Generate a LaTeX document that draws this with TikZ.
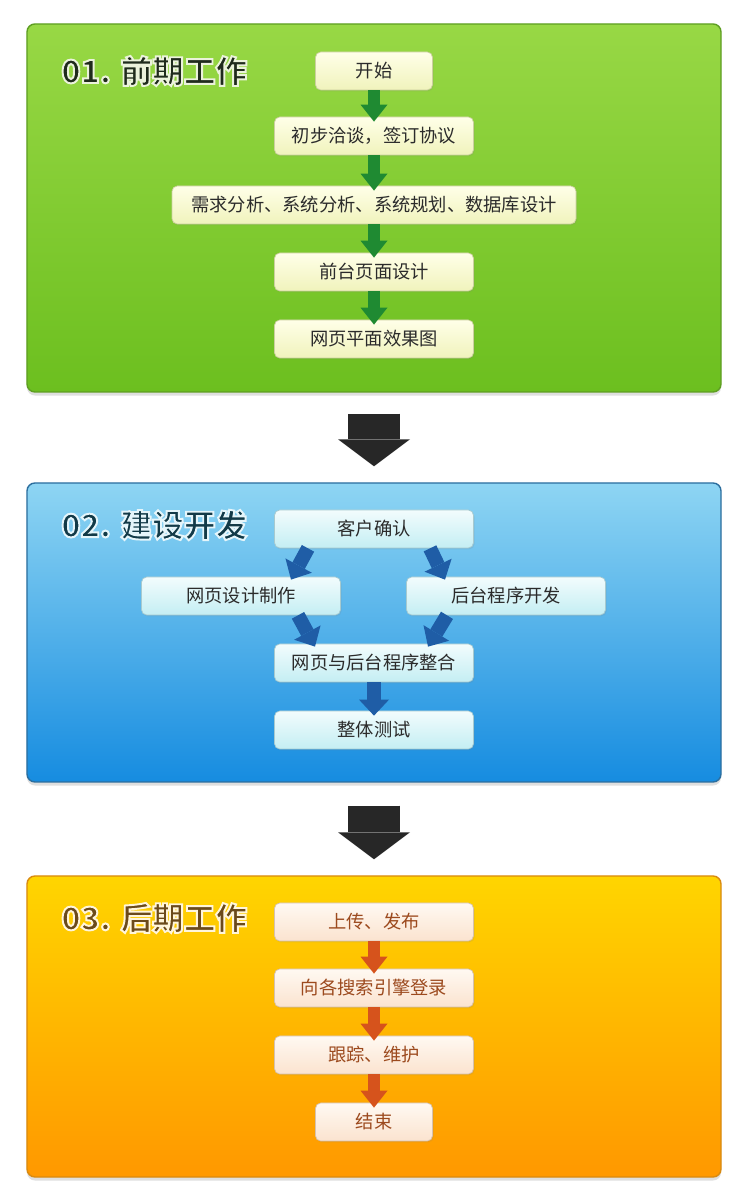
\documentclass[tikz,border=0pt]{standalone}
\usepackage{fontspec}
\setmainfont{Noto Sans CJK SC}
\usetikzlibrary{arrows.meta,shadows}
\definecolor{LeafTop}{HTML}{98D845}
\definecolor{LeafBot}{HTML}{6CBF1F}
\definecolor{LeafEdge}{HTML}{5E9E22}
\definecolor{LeafBoxTop}{HTML}{FFFFE8}
\definecolor{LeafBoxBot}{HTML}{F0F3BC}
\definecolor{LeafArrow}{HTML}{1F8A32}
\definecolor{LeafInk}{HTML}{1F2B1C}
\definecolor{SkyTop}{HTML}{8ED5F3}
\definecolor{SkyBot}{HTML}{168CE0}
\definecolor{SkyEdge}{HTML}{2C6E9E}
\definecolor{SkyBoxTop}{HTML}{F2FCFD}
\definecolor{SkyBoxBot}{HTML}{C4EEF3}
\definecolor{SkyArrow}{HTML}{1F5DA6}
\definecolor{SkyInk}{HTML}{123A48}
\definecolor{SunTop}{HTML}{FFD500}
\definecolor{SunBot}{HTML}{FF9800}
\definecolor{SunEdge}{HTML}{D98A10}
\definecolor{SunBoxTop}{HTML}{FFF9F2}
\definecolor{SunBoxBot}{HTML}{FBE3CF}
\definecolor{SunArrow}{HTML}{D6531C}
\definecolor{SunInk}{HTML}{6B4A1A}
\definecolor{SunWord}{HTML}{9C4A1E}
\definecolor{Coal}{HTML}{272727}
\definecolor{TextInk}{HTML}{2B2B2B}

\begin{document}
\begin{tikzpicture}[every node/.style={text=TextInk},
panel/.style={rounded corners=4.5pt,minimum width=13.88cm,inner sep=0pt,line width=.8pt,drop shadow={opacity=.25,shadow xshift=0pt,shadow yshift=-2pt}},
box/.style={rounded corners=3pt,minimum width=3.98cm,minimum height=.76cm,inner sep=0pt,font=\fontsize{10.4}{12}\selectfont,drop shadow={opacity=.15,shadow xshift=.6pt,shadow yshift=-.8pt}},
leafbox/.style={box,top color=LeafBoxTop,bottom color=LeafBoxBot,draw=LeafBoxBot!85!black},
skybox/.style={box,top color=SkyBoxTop,bottom color=SkyBoxBot,draw=SkyBoxBot!85!black},
sunbox/.style={box,top color=SunBoxTop,bottom color=SunBoxBot,draw=SunBoxBot!85!black,text=SunWord},
ttl/.style={anchor=west,font=\fontsize{18}{20}\selectfont\bfseries,inner sep=0pt},
leafarrow/.style={-{Triangle[width=.54cm,length=.34cm,line width=0pt]},line width=.24cm,draw=LeafArrow},
skyarrow/.style={-{Triangle[width=.6cm,length=.32cm,line width=0pt]},line width=.28cm,draw=SkyArrow},
sunarrow/.style={-{Triangle[width=.54cm,length=.34cm,line width=0pt]},line width=.24cm,draw=SunArrow},
bigarrow/.style={-{Triangle[width=1.44cm,length=.54cm,line width=0pt]},line width=1.04cm,draw=Coal}]
\useasboundingbox (0,0) rectangle (14.94,23.82);
\fill[white] (0,0) rectangle (14.94,23.82);

\node[panel,minimum height=7.36cm,top color=LeafTop,bottom color=LeafBot,draw=LeafEdge] (p1) at (7.48,19.66) {};
\node[panel,minimum height=5.98cm,top color=SkyTop,bottom color=SkyBot,draw=SkyEdge] (p2) at (7.48,11.17) {};
\node[panel,minimum height=6.02cm,top color=SunTop,bottom color=SunBot,draw=SunEdge] (p3) at (7.48,3.29) {};

% titles: dark fill, pale halo stroke (text render mode 2)
\node[ttl,text=LeafInk] (t1) at (1.22,22.40) {\special{pdf:literal direct 2 Tr 1.1 w 0.92 0.95 0.86 RG}01. 前期工作\special{pdf:literal direct 0 Tr}};
\node[ttl,text=SkyInk] (t2) at (1.22,13.32) {\special{pdf:literal direct 2 Tr 1.1 w 0.90 0.96 0.98 RG}02. 建设开发\special{pdf:literal direct 0 Tr}};
\node[ttl,text=SunInk] (t3) at (1.22,5.46) {\special{pdf:literal direct 2 Tr 1.1 w 1 0.96 0.86 RG}03. 后期工作\special{pdf:literal direct 0 Tr}};

\node[leafbox,minimum width=2.34cm] (start) at (7.48,22.40) {开始};
\node[leafbox] (talk) at (7.48,21.10) {初步洽谈，签订协议};
\node[leafbox,minimum width=8.08cm] (analysis) at (7.48,19.72) {需求分析、系统分析、系统规划、数据库设计};
\node[leafbox] (front) at (7.48,18.38) {前台页面设计};
\node[leafbox] (effect) at (7.48,17.04) {网页平面效果图};
\draw[leafarrow] (start.south) -- ([yshift=-.1cm]talk.north);
\draw[leafarrow] (talk.south) -- ([yshift=-.1cm]analysis.north);
\draw[leafarrow] (analysis.south) -- ([yshift=-.1cm]front.north);
\draw[leafarrow] (front.south) -- ([yshift=-.1cm]effect.north);

\node[skybox] (confirm) at (7.48,13.24) {客户确认};
\node[skybox] (webmake) at (4.82,11.90) {网页设计制作};
\node[skybox] (backend) at (10.12,11.90) {后台程序开发};
\node[skybox] (merge) at (7.48,10.56) {网页与后台程序整合};
\node[skybox] (test) at (7.48,9.22) {整体测试};
\draw[skyarrow] ([xshift=-1.32cm]confirm.south) -- ([xshift=1cm,yshift=-.06cm]webmake.north);
\draw[skyarrow] ([xshift=1.12cm]confirm.south) -- ([xshift=-1.22cm,yshift=-.06cm]backend.north);
\draw[skyarrow] ([xshift=1.14cm]webmake.south) -- ([xshift=-1.18cm,yshift=-.06cm]merge.north);
\draw[skyarrow] ([xshift=-1.18cm]backend.south) -- ([xshift=1.08cm,yshift=-.06cm]merge.north);
\draw[skyarrow] (merge.south) -- ([yshift=-.1cm]test.north);

\node[sunbox] (upload) at (7.48,5.38) {上传、发布};
\node[sunbox] (search) at (7.48,4.06) {向各搜索引擎登录};
\node[sunbox] (track) at (7.48,2.72) {跟踪、维护};
\node[sunbox,minimum width=2.34cm] (finish) at (7.48,1.38) {结束};
\draw[sunarrow] (upload.south) -- ([yshift=-.1cm]search.north);
\draw[sunarrow] (search.south) -- ([yshift=-.1cm]track.north);
\draw[sunarrow] (track.south) -- ([yshift=-.1cm]finish.north);

\draw[bigarrow] ([yshift=-.42cm]p1.south) -- ([yshift=.32cm]p2.north);
\draw[bigarrow] ([yshift=-.46cm]p2.south) -- ([yshift=.32cm]p3.north);

\end{tikzpicture}
\end{document}
